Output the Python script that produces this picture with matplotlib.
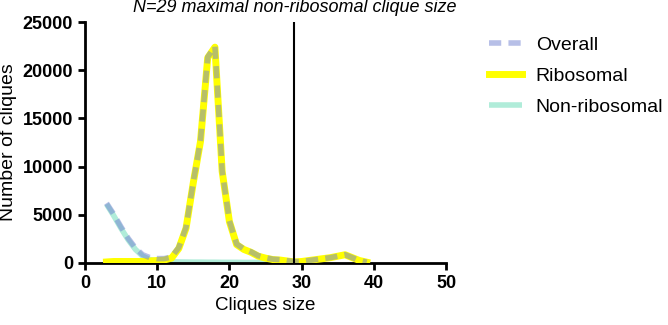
import matplotlib
matplotlib.use('Agg')

import matplotlib.pyplot as plt

plt.rcParams['font.family'] = ['Liberation Sans', 'DejaVu Sans']

# clique size -> number of cliques
sizes_rib = list(range(3, 40))
ribosomal = [100, 150, 150, 150, 150, 150, 200, 250, 300, 500,
             1500, 3600, 8300, 12600, 21300, 22400, 9500, 4300, 1900, 1400,
             1100, 700, 500, 350, 300, 200, 100, 150, 250, 350,
             450, 550, 700, 850, 550, 250, 80]

sizes_non = list(range(3, 30))
non_ribosomal = [6100, 4900, 3600, 2400, 1400, 700, 350, 200, 150, 120,
                 100, 90, 80, 80, 70, 70, 60, 60, 60, 50,
                 50, 50, 40, 40, 40, 30, 30]

# overall = ribosomal + non-ribosomal
overall = []
for i, s in enumerate(sizes_rib):
    v = ribosomal[i]
    if s in sizes_non:
        v += non_ribosomal[sizes_non.index(s)]
    overall.append(v)

max_non_rib = 29

fig = plt.figure(figsize=(6.68, 3.25), dpi=100)
ax = fig.add_axes([0.127, 0.191, 0.541, 0.741])

ax.plot(sizes_non, non_ribosomal, color='#b0ecd9', linewidth=4, label='Non-ribosomal',
        solid_capstyle='butt', zorder=2)
ax.plot(sizes_rib, ribosomal, color='#ffff00', linewidth=5, label='Ribosomal', zorder=3)
ax.plot(sizes_rib, overall, color='#7080d0', alpha=0.5, linewidth=4,
        dashes=(2.2, 1.3), label='Overall', zorder=4)

ax.axvline(max_non_rib, color='black', linewidth=1.5, zorder=5)
ax.text(max_non_rib, 25600, 'N=29 maximal non-ribosomal clique size', ha='center',
        va='bottom', fontsize=13, style='italic')

ax.set_xlim(0, 50)
ax.set_ylim(0, 25000)
ax.set_xticks([0, 10, 20, 30, 40, 50])
ax.set_yticks([0, 5000, 10000, 15000, 20000, 25000])
ax.spines['top'].set_visible(False)
ax.spines['right'].set_visible(False)
ax.spines['left'].set_linewidth(2)
ax.spines['bottom'].set_linewidth(2)
ax.tick_params(width=2, length=5, labelsize=13)
for lab in ax.get_xticklabels() + ax.get_yticklabels():
    lab.set_fontweight('bold')

ax.set_xlabel('Cliques size', fontsize=13.5)
ax.set_ylabel('Number of cliques', fontsize=14)

handles, labels = ax.get_legend_handles_labels()
order = [2, 1, 0]
ax.legend([handles[i] for i in order], [labels[i] for i in order],
          loc='upper left', bbox_to_anchor=(1.07, 1.015), frameon=False,
          fontsize=14, handlelength=1.7, handletextpad=0.7, labelspacing=0.7)

fig.savefig('out.png', dpi=100)
